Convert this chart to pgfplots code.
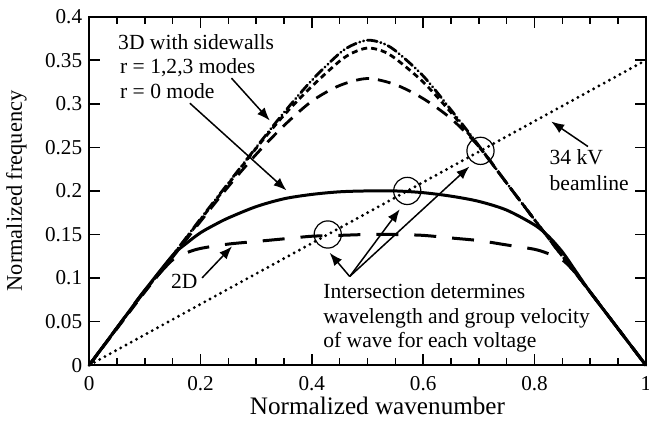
\documentclass[border=0pt]{standalone}
\usepackage{fontspec}
\setmainfont{Liberation Serif}
\usepackage{pgfplots}
\pgfplotsset{compat=1.18}
\usetikzlibrary{arrows.meta}

\pgfplotstableread{
x y
0 0
0.05 0.043
0.1 0.085
0.15 0.126
0.2 0.168
0.25 0.209
0.3 0.250
0.35 0.290
0.4 0.327
0.45 0.358
0.475 0.368
0.5 0.373
0.525 0.370
0.55 0.361
0.6 0.332
0.65 0.293
0.7 0.252
0.75 0.209
0.8 0.167
0.85 0.125
0.9 0.084
0.95 0.042
1 0
}\rA

\pgfplotstableread{
x y
0 0
0.05 0.043
0.1 0.085
0.15 0.126
0.2 0.167
0.25 0.208
0.3 0.249
0.35 0.287
0.4 0.320
0.45 0.349
0.475 0.359
0.5 0.364
0.525 0.361
0.55 0.352
0.6 0.325
0.65 0.290
0.7 0.251
0.75 0.209
0.8 0.167
0.85 0.125
0.9 0.084
0.95 0.042
1 0
}\rB

\pgfplotstableread{
x y
0 0
0.05 0.042
0.1 0.084
0.15 0.124
0.2 0.165
0.25 0.205
0.3 0.242
0.35 0.275
0.4 0.303
0.45 0.321
0.5 0.329
0.55 0.322
0.6 0.306
0.65 0.283
0.7 0.251
0.75 0.209
0.8 0.167
0.85 0.125
0.9 0.084
0.95 0.042
1 0
}\rC

\pgfplotstableread{
x y
0 0
0.05 0.043
0.1 0.086
0.15 0.126
0.175 0.140
0.2 0.152
0.225 0.161
0.25 0.169
0.3 0.182
0.35 0.191
0.4 0.196
0.45 0.199
0.5 0.200
0.55 0.200
0.6 0.198
0.65 0.194
0.7 0.188
0.75 0.178
0.8 0.161
0.825 0.148
0.85 0.130
0.875 0.107
0.9 0.084
0.95 0.042
1 0
}\rZero

\pgfplotstableread{
x y
0 0
0.05 0.043
0.1 0.086
0.15 0.121
0.175 0.129
0.2 0.134
0.25 0.139
0.3 0.142
0.35 0.145
0.4 0.148
0.45 0.149
0.5 0.150
0.55 0.150
0.6 0.149
0.65 0.146
0.7 0.143
0.75 0.138
0.8 0.133
0.825 0.128
0.85 0.121
0.875 0.105
0.9 0.084
0.95 0.042
1 0
}\twoD

\begin{document}
\begin{tikzpicture}[font=\fontsize{10.6}{12.7}\selectfont]
\begin{axis}[name=ax,
  scale only axis, width=278.7pt, height=174.5pt,
  xmin=0, xmax=1, ymin=0, ymax=0.4,
  clip=false,
  axis line style={line width=1pt},
  tick style={line width=0.8pt, black},
  tick align=inside,
  major tick length=5.5pt, minor tick length=3.5pt,
  xtick={0,0.2,0.4,0.6,0.8,1},
  xticklabels={0,0.2,0.4,0.6,0.8,1},
  minor x tick num=3,
  ytick={0,0.05,0.1,0.15,0.2,0.25,0.3,0.35,0.4},
  yticklabels={0,0.05,0.1,0.15,0.2,0.25,0.3,0.35,0.4},
  xticklabel style={yshift=-2pt},
  every axis x label/.style={at={(axis description cs:0.518,-0.1413)},anchor=base,font=\fontsize{12.6}{15}\selectfont},
  every axis y label/.style={at={(axis description cs:-0.1207,0.5)},rotate=90,anchor=base,font=\fontsize{11.2}{13}\selectfont},
  xlabel={Normalized wavenumber},
  ylabel={Normalized frequency},
]
% beamline
\addplot[black, line width=1.6pt, line cap=round, dash pattern=on 0pt off 3pt] coordinates {(0,0) (1,0.35)};
% 3D modes
\addplot[black, line width=1.4pt, smooth, line cap=round, dash pattern=on 5pt off 1.8pt on 0.2pt off 1.8pt on 0.2pt off 1.8pt] table {\rA};
\addplot[black, line width=1.4pt, smooth, dash pattern=on 3pt off 2pt] table {\rB};
\addplot[black, line width=1.4pt, smooth, dash pattern=on 6.5pt off 4.5pt] table {\rC};
\addplot[black, line width=1.5pt, smooth] table {\rZero};
\addplot[black, line width=1.5pt, smooth, dash pattern=on 11pt off 8pt] table {\twoD};
% intersection circles
\addplot[black, only marks, mark=o, mark size=6.8pt, mark options={line width=0.6pt}] coordinates {(0.4286,0.15) (0.5714,0.2) (0.703,0.246)};

% annotations
\begin{scope}[font=\fontsize{10.8}{13}\selectfont]
\node[anchor=base west, inner sep=0pt] at (axis cs:0.0515,0.3618) {3D with sidewalls};
\node[anchor=base west, inner sep=0pt] at (axis cs:0.055,0.3343) {r = 1,2,3 modes};
\node[anchor=base west, inner sep=0pt] at (axis cs:0.055,0.3065) {r = 0 mode};
\node[anchor=base west, inner sep=0pt] at (axis cs:0.1466,0.0876) {2D};
\node[anchor=base west, inner sep=0pt] at (axis cs:0.8265,0.230) {34 kV};
\node[anchor=base west, inner sep=0pt] at (axis cs:0.8265,0.2006) {beamline};
\node[anchor=base west, inner sep=0pt] at (axis cs:0.42,0.0764) {Intersection determines};
\node[anchor=base west, inner sep=0pt] at (axis cs:0.42,0.0478) {wavelength and group velocity};
\node[anchor=base west, inner sep=0pt] at (axis cs:0.42,0.0203) {of wave for each voltage};
\end{scope}

\begin{scope}[line width=0.75pt, -{Latex[length=6.5pt,width=5pt]}]
\draw (axis cs:0.2557,0.3294) -- (axis cs:0.3244,0.2808);
\draw (axis cs:0.1808,0.3007) -- (axis cs:0.3544,0.2006);
\draw (axis cs:0.2029,0.1002) -- (axis cs:0.2567,0.1364);
\draw (axis cs:0.896,0.251) -- (axis cs:0.830,0.2797);
\draw (axis cs:0.468,0.1018) -- (axis cs:0.432,0.129);
\draw (axis cs:0.468,0.1018) -- (axis cs:0.558,0.179);
\draw (axis cs:0.468,0.1018) -- (axis cs:0.683,0.228);
\end{scope}
\end{axis}
\pgfresetboundingbox
\path ([shift={(-44.65pt,-27.65pt)}]ax.south west) rectangle ([shift={(1.6pt,8.35pt)}]ax.north east);
\end{tikzpicture}
\end{document}
